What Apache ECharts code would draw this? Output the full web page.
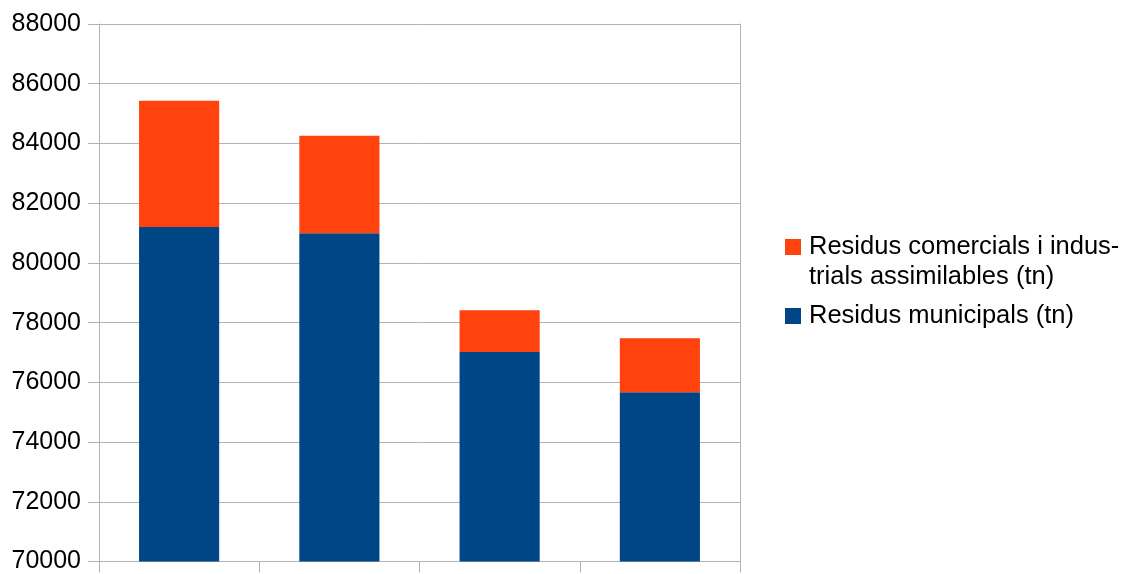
<!DOCTYPE html>
<html>
<head>
<meta charset="utf-8">
<script src="https://cdn.jsdelivr.net/npm/echarts@6/dist/echarts.min.js"></script>
<style>
html,body{margin:0;padding:0;background:#fff;}
#chart{width:1130px;height:574px;}
</style>
</head>
<body>
<div id="chart"></div>
<script>
const categories = ['1', '2', '3', '4'];
const municipals = [81200, 80990, 77020, 75670];
const comercials = [4230, 3270, 1395, 1810];
const seriesNames = ['Residus municipals (tn)', 'Residus comercials i industrials assimilables (tn)'];
const legendLabels = ['Residus municipals (tn)', 'Residus comercials i indus-\ntrials assimilables (tn)'];
const yMin = 70000, yMax = 88000, yStep = 2000;

const grey = '#b3b3b3';
const font = 'Liberation Sans, Arial, sans-serif';
const chart = echarts.init(document.getElementById('chart'));
chart.setOption({
  animation: false,
  textStyle: { fontFamily: font },
  grid: { left: 99, right: 390, top: 24, bottom: 11, containLabel: false },
  legend: [
    {
      data: [seriesNames[1]],
      left: 785, top: 202, padding: 0,
      itemWidth: 16, itemHeight: 16, icon: 'rect',
      formatter: () => ' \n' + legendLabels[1],
      textStyle: { fontSize: 25.5, color: '#000', fontFamily: font, lineHeight: 30, padding: [0, 0, 0, 3] }
    },
    {
      data: [seriesNames[0]],
      left: 785, top: 301, padding: 0,
      itemWidth: 16, itemHeight: 16, icon: 'rect',
      textStyle: { fontSize: 25.5, color: '#000', fontFamily: font, lineHeight: 30, padding: [0, 0, 0, 3] }
    }
  ],
  xAxis: {
    type: 'category',
    data: categories,
    axisLine: { show: true, lineStyle: { color: grey } },
    axisTick: { show: true, length: 11, lineStyle: { color: grey } },
    axisLabel: { show: false },
    splitLine: { show: false }
  },
  yAxis: [
    {
      type: 'value',
      min: yMin, max: yMax, interval: yStep,
      axisLine: { show: true, lineStyle: { color: grey } },
      axisTick: { show: true, length: 11, lineStyle: { color: grey } },
      axisLabel: { fontSize: 25, color: '#000', margin: 18, fontFamily: font, formatter: v => String(v) },
      splitLine: { show: true, lineStyle: { color: grey, width: 1 } }
    },
    {
      type: 'value', position: 'right',
      min: yMin, max: yMax, interval: yStep,
      axisLine: { show: true, lineStyle: { color: grey } },
      axisTick: { show: false },
      axisLabel: { show: false },
      splitLine: { show: false }
    }
  ],
  series: [
    {
      name: seriesNames[0], type: 'bar', stack: 'total',
      data: municipals, barWidth: '50%',
      itemStyle: { color: '#004586' }
    },
    {
      name: seriesNames[1], type: 'bar', stack: 'total',
      data: comercials, barWidth: '50%',
      itemStyle: { color: '#ff420e' }
    }
  ]
});
</script>
</body>
</html>
